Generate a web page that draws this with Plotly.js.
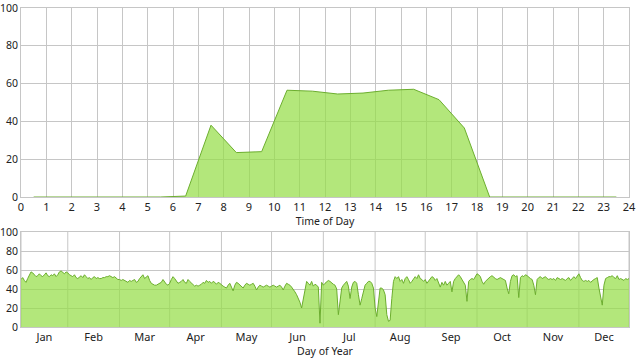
<!DOCTYPE html>
<html>
<head>
<meta charset="utf-8">
<script src="https://cdn.plot.ly/plotly-3.0.1.min.js"></script>
<style>html,body{margin:0;padding:0;background:#fff;}#chart{width:641px;height:358px;}</style>
</head>
<body>
<div id="chart"></div>
<script>
// Top chart: average by time of day
const hours = [0.5,1.5,2.5,3.5,4.5,5.5,6.5,7.5,8.5,9.5,10.5,11.5,12.5,13.5,14.5,15.5,16.5,17.5,18.5,19.5,20.5,21.5,22.5,23.5];
const hourValues = [0,0,0,0,0,0,0.5,38,23.5,24,56.5,56,54.5,55,56.5,57,51.5,36.5,0,0,0,0,0,0];
const hourTicks = [0,1,2,3,4,5,6,7,8,9,10,11,12,13,14,15,16,17,18,19,20,21,22,23,24];

// Bottom chart: daily values over the year
const dailyValues = [
  50,52,49,47,51,55,58,57,55,53, 54,56,54,53,55,57,54,53,55,54, 56,53,55,58,59,57,56,58,57,55, 54,
  53,55,52,51,53,54,52,55,53,51, 52,50,52,53,51,52,51,51,52,52, 53,53,54,53,52,53,51,50,50,
  49,50,49,48,47,49,48,49,50,47, 48,51,53,55,51,53,54,49,46,45, 44,44,45,46,47,50,47,45,44,46,
  50,53,51,49,46,47,48,50,47,46, 50,48,46,44,43,44,43,44,45,47, 46,49,47,48,46,48,47,45,47,46, 44,43,42,
  41,44,46,42,38,44,47,46,44,42, 41,44,46,45,44,45,46,43,39,42, 44,43,42,43,44,43,42,43,44,43,
  42,43,44,42,39,43,46,45,44,42, 40,37,34,30,26,20,30,41,48,46, 44,48,43,45,44,42,4,47,44,46, 48,
  49,48,46,45,44,40,13,30,41,44, 46,48,43,30,42,47,48,46,34,23, 30,38,44,46,48,48,46,41,20,11,
  30,41,41,39,34,13,6,7,30,48, 53,51,53,48,50,46,51,53,50,46, 48,50,53,51,55,51,50,48,50,46, 48,
  51,53,52,49,51,46,42,47,44,48, 44,46,48,37,48,51,53,55,53,50, 46,44,27,48,50,51,50,53,56,55,
  53,48,45,48,50,51,53,54,52,51, 50,51,52,51,50,49,41,35,48,54, 55,53,54,31,52,54,53,55,54,52, 51,
  50,44,34,50,52,53,51,52,53,51, 50,51,50,51,49,52,51,50,51,50, 49,51,52,49,51,53,51,54,56,52,
  49,48,49,48,49,47,49,50,51,52, 41,33,23,44,51,52,53,53,54,52, 51,54,50,51,50,49,51,50,51
];
const monthLabels = ['Jan','Feb','Mar','Apr','May','Jun','Jul','Aug','Sep','Oct','Nov','Dec'];
const monthBoundaries = [0,28,59,89,120,150,181,212,242,273,303,334,364];
const yTicks = [0,20,40,60,80,100];

const days = dailyValues.map((_, i) => i);
const monthMids = monthLabels.map((_, i) => (monthBoundaries[i] + monthBoundaries[i + 1]) / 2);

const gridColor = '#c6c6c6';
const lineGreen = '#6cae2e';
const fillGreen = 'rgba(150,222,72,0.72)';
const fontFam = '"Noto Sans", "Open Sans", sans-serif';

const traces = [
  {
    x: hours, y: hourValues, type: 'scatter', mode: 'lines',
    fill: 'tozeroy', fillcolor: fillGreen,
    line: {color: lineGreen, width: 1},
    xaxis: 'x', yaxis: 'y', hoverinfo: 'skip'
  },
  {
    x: days, y: dailyValues, type: 'scatter', mode: 'lines',
    fill: 'tozeroy', fillcolor: fillGreen,
    line: {color: lineGreen, width: 1},
    xaxis: 'x2', yaxis: 'y2', hoverinfo: 'skip'
  }
];

const axisCommon = {
  showgrid: true, gridcolor: gridColor, gridwidth: 1,
  showline: true, linecolor: gridColor, linewidth: 1, mirror: true,
  zeroline: false, ticks: '', fixedrange: true,
  ticklabeloverflow: 'allow',
  tickfont: {family: fontFam, size: 11, color: '#222'}
};
const yTickFont = {family: fontFam, size: 10.5, color: '#222'};

const shapes = monthBoundaries.map(b => ({
  type: 'line', xref: 'x2', yref: 'y2 domain',
  x0: b, x1: b, y0: 0, y1: 1,
  line: {color: gridColor, width: 1}, layer: 'below'
}));

const layout = {
  width: 641, height: 358,
  margin: {l: 21, r: 12, t: 8, b: 31, pad: 0},
  paper_bgcolor: '#fff', plot_bgcolor: '#fff',
  showlegend: false,
  font: {family: fontFam, size: 11, color: '#222'},
  xaxis: Object.assign({}, axisCommon, {
    domain: [0, 1], anchor: 'y', range: [0, 24],
    tickvals: hourTicks, ticktext: hourTicks.map(String),
    title: {text: 'Time of Day', font: {family: fontFam, size: 10.5, color: '#222'}, standoff: 0}
  }),
  yaxis: Object.assign({}, axisCommon, {
    domain: [0.4075, 1], anchor: 'x', range: [0, 100],
    tickvals: yTicks, ticktext: yTicks.map(String), tickfont: yTickFont
  }),
  xaxis2: Object.assign({}, axisCommon, {
    domain: [0, 1], anchor: 'y2', range: [0, 364],
    showgrid: false,
    tickvals: monthMids, ticktext: monthLabels,
    title: {text: 'Day of Year', font: {family: fontFam, size: 10.5, color: '#222'}, standoff: 0}
  }),
  yaxis2: Object.assign({}, axisCommon, {
    domain: [0, 0.2978], anchor: 'x2', range: [0, 100],
    tickvals: yTicks, ticktext: yTicks.map(String), tickfont: yTickFont
  }),
  shapes: shapes
};

Plotly.newPlot('chart', traces, layout, {staticPlot: true, displayModeBar: false});
</script>
</body>
</html>
